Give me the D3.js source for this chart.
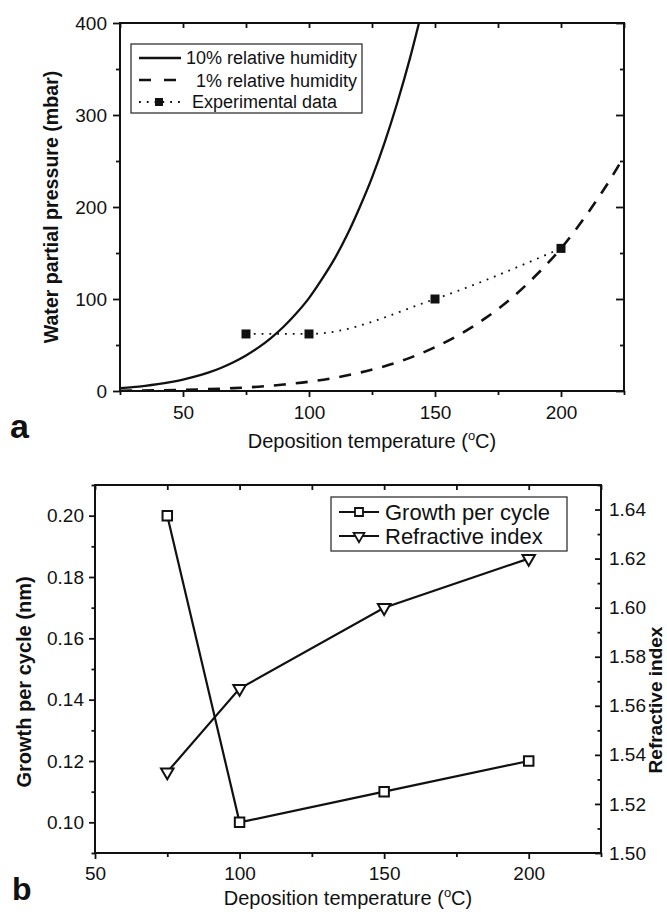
<!DOCTYPE html>
<html>
<head>
<meta charset="utf-8">
<script src="https://cdn.jsdelivr.net/npm/d3@7"></script>
<style>
  body { margin: 0; background: #fff; }
  text { font-family: "Liberation Sans", Arial, sans-serif; fill: #111; }
</style>
</head>
<body>
<svg id="fig" width="667" height="912"></svg>
<script>
// ---- panel a : water partial pressure vs deposition temperature
const rh10Temps = [25, 30, 35, 40, 45, 50, 55, 60, 65, 70, 75, 80, 85, 90, 95, 100, 105, 110, 115, 120, 125, 130, 135, 140, 145];
const rh10Pressure = [3.2, 4.2, 5.6, 7.4, 9.6, 12.3, 15.8, 19.9, 25, 31.2, 38.6, 47.4, 57.8, 70.1, 84.5, 101, 121, 143, 169, 199, 232, 270, 313, 361, 415];
const rh1Temps = [25, 30, 40, 50, 60, 70, 80, 90, 100, 110, 120, 130, 140, 150, 160, 170, 180, 190, 200, 210, 220, 225];
const rh1Pressure = [0.3, 0.4, 0.7, 1.2, 2.0, 3.1, 4.7, 7.0, 10.1, 14.3, 19.9, 27, 36, 47.6, 61.8, 79.2, 100, 125.5, 155, 191, 232, 255];
const expTemps = [75, 100, 150, 200];
const expPressure = [62, 62, 100, 155];
const pressureTicks = [0, 100, 200, 300, 400];
const pressureMinor = [50, 150, 250, 350];
const tempTicksA = [50, 100, 150, 200];
const tempMinorA = [25, 75, 125, 175, 225];

// ---- panel b : growth per cycle and refractive index
const depTemps = [75, 100, 150, 200];
const growth = [0.20, 0.10, 0.11, 0.12];
const refIndex = [1.533, 1.567, 1.600, 1.620];
const growthTicks = [0.10, 0.12, 0.14, 0.16, 0.18, 0.20];
const growthMinor = [0.09, 0.11, 0.13, 0.15, 0.17, 0.19, 0.21];
const refTicks = [1.50, 1.52, 1.54, 1.56, 1.58, 1.60, 1.62, 1.64];
const refMinor = [1.51, 1.53, 1.55, 1.57, 1.59, 1.61, 1.63, 1.65];
const tempTicksB = [50, 100, 150, 200];
const tempMinorB = [75, 125, 175, 225];

const ink = "#111";
const svg = d3.select("#fig");

// draws one set of ticks, no domain line
function axis(g, gen, values, size, fmt, pad) {
  const a = gen.tickValues(values).tickSizeInner(size).tickSizeOuter(0)
    .tickPadding(pad || 0).tickFormat(fmt || (() => ""));
  g.call(a);
  g.select(".domain").remove();
  g.selectAll("line").attr("stroke", ink).attr("stroke-width", 1.8);
  g.selectAll("text").attr("font-size", 19).attr("fill", ink).attr("font-family", null);
  return g;
}

// ================= panel a
const ax0 = 120, ax1 = 624, ay0 = 23, ay1 = 391;
const xa = d3.scaleLinear().domain([25, 225]).range([ax0, ax1]);
const ya = d3.scaleLinear().domain([0, 400]).range([ay1, ay0]);
const pa = svg.append("g");

pa.append("clipPath").attr("id", "clipA").append("rect")
  .attr("x", ax0).attr("y", ay0).attr("width", ax1 - ax0).attr("height", ay1 - ay0);

const lineA = (xs, ys) => d3.line().curve(d3.curveMonotoneX)
  .x((d, i) => xa(xs[i])).y(d => ya(d))(ys);

pa.append("path").attr("d", lineA(rh10Temps, rh10Pressure)).attr("clip-path", "url(#clipA)")
  .attr("fill", "none").attr("stroke", ink).attr("stroke-width", 2.3);
pa.append("path").attr("d", lineA(rh1Temps, rh1Pressure)).attr("clip-path", "url(#clipA)")
  .attr("fill", "none").attr("stroke", ink).attr("stroke-width", 2.6).attr("stroke-dasharray", "12,10");
pa.append("path").attr("d", lineA(expTemps, expPressure))
  .attr("fill", "none").attr("stroke", ink).attr("stroke-width", 1.8)
  .attr("stroke-dasharray", "1.8,6").attr("stroke-linecap", "butt");
pa.selectAll(".exp").data(expPressure).enter().append("path")
  .attr("transform", (d, i) => "translate(" + xa(expTemps[i]) + "," + ya(d) + ")")
  .attr("d", d3.symbol().type(d3.symbolSquare).size(81)).attr("fill", ink);

axis(pa.append("g").attr("transform", "translate(" + ax0 + ",0)"), d3.axisLeft(ya), pressureTicks, 7, d3.format("d"), 6);
axis(pa.append("g").attr("transform", "translate(" + ax0 + ",0)"), d3.axisLeft(ya), pressureMinor, 4);
axis(pa.append("g").attr("transform", "translate(" + ax1 + ",0)"), d3.axisRight(ya), pressureTicks, -8);
axis(pa.append("g").attr("transform", "translate(" + ax1 + ",0)"), d3.axisRight(ya), pressureMinor, -4);
axis(pa.append("g").attr("transform", "translate(0," + ay1 + ")"), d3.axisBottom(xa), tempTicksA, 6, d3.format("d"), 8.5);
axis(pa.append("g").attr("transform", "translate(0," + ay1 + ")"), d3.axisBottom(xa), tempMinorA, 4);
axis(pa.append("g").attr("transform", "translate(0," + ay0 + ")"), d3.axisTop(xa), tempTicksA.concat(tempMinorA), -5);

pa.append("rect").attr("x", ax0).attr("y", ay0).attr("width", ax1 - ax0).attr("height", ay1 - ay0)
  .attr("fill", "none").attr("stroke", ink).attr("stroke-width", 2);

// legend a
const la = pa.append("g");
la.append("rect").attr("x", 131).attr("y", 44).attr("width", 231).attr("height", 69)
  .attr("fill", "#fff").attr("stroke", "#333").attr("stroke-width", 1.3);
la.append("line").attr("x1", 139).attr("x2", 181).attr("y1", 58).attr("y2", 58)
  .attr("stroke", ink).attr("stroke-width", 2.3);
la.append("line").attr("x1", 139).attr("x2", 181).attr("y1", 80).attr("y2", 80)
  .attr("stroke", ink).attr("stroke-width", 2.6).attr("stroke-dasharray", "12,13");
la.append("line").attr("x1", 139).attr("x2", 181).attr("y1", 102).attr("y2", 102)
  .attr("stroke", ink).attr("stroke-width", 1.8).attr("stroke-dasharray", "1.8,6");
la.append("path").attr("transform", "translate(159,102)")
  .attr("d", d3.symbol().type(d3.symbolSquare).size(64)).attr("fill", ink);
la.append("text").attr("x", 186).attr("y", 64).attr("font-size", 18).text("10% relative humidity");
la.append("text").attr("x", 196).attr("y", 87).attr("font-size", 18).text("1% relative humidity");
la.append("text").attr("x", 192).attr("y", 108).attr("font-size", 18).text("Experimental data");

pa.append("text").attr("transform", "translate(58,207) rotate(-90)").attr("text-anchor", "middle")
  .attr("font-size", 19.6).attr("font-weight", "bold").text("Water partial pressure (mbar)");
const xta = pa.append("text").attr("x", (ax0 + ax1) / 2).attr("y", 448).attr("text-anchor", "middle").attr("font-size", 20);
xta.append("tspan").text("Deposition temperature (");
xta.append("tspan").attr("font-size", 13).attr("dy", -8).text("o");
xta.append("tspan").attr("dy", 8).text("C)");
pa.append("text").attr("x", 10).attr("y", 438).attr("font-size", 34).attr("font-weight", "bold").text("a");

// ================= panel b
const bx0 = 95, bx1 = 601, by0 = 485, by1 = 853;
const xb = d3.scaleLinear().domain([50, 225]).range([bx0, bx1]);
const yg = d3.scaleLinear().domain([0.09, 0.21]).range([by1, by0]);
const yr = d3.scaleLinear().domain([1.50, 1.65]).range([by1, by0]);
const pb = svg.append("g");

const lineB = (ys, scale) => d3.line().x((d, i) => xb(depTemps[i])).y(d => scale(d))(ys);
pb.append("path").attr("d", lineB(growth, yg)).attr("fill", "none").attr("stroke", ink).attr("stroke-width", 2.2);
pb.append("path").attr("d", lineB(refIndex, yr)).attr("fill", "none").attr("stroke", ink).attr("stroke-width", 2.2);

const sq = d3.symbol().type(d3.symbolSquare).size(90);
const tri = d3.symbol().type(d3.symbolTriangle).size(68);
pb.selectAll(".g").data(growth).enter().append("path")
  .attr("transform", (d, i) => "translate(" + xb(depTemps[i]) + "," + yg(d) + ")")
  .attr("d", sq).attr("fill", "#fff").attr("stroke", ink).attr("stroke-width", 2);
pb.selectAll(".r").data(refIndex).enter().append("path")
  .attr("transform", (d, i) => "translate(" + xb(depTemps[i]) + "," + yr(d) + ") rotate(180)")
  .attr("d", tri).attr("fill", "#fff").attr("stroke", ink).attr("stroke-width", 2);

axis(pb.append("g").attr("transform", "translate(" + bx0 + ",0)"), d3.axisLeft(yg), growthTicks, 6, d3.format(".2f"), 5);
axis(pb.append("g").attr("transform", "translate(" + bx0 + ",0)"), d3.axisLeft(yg), growthMinor, 3.5);
axis(pb.append("g").attr("transform", "translate(" + bx1 + ",0)"), d3.axisRight(yr), refTicks, -6, d3.format(".2f"), 8);
axis(pb.append("g").attr("transform", "translate(" + bx1 + ",0)"), d3.axisRight(yr), refMinor, -3.5);
axis(pb.append("g").attr("transform", "translate(0," + by1 + ")"), d3.axisBottom(xb), tempTicksB, 6, d3.format("d"), 7.5);
axis(pb.append("g").attr("transform", "translate(0," + by1 + ")"), d3.axisBottom(xb), tempMinorB, 4);
axis(pb.append("g").attr("transform", "translate(0," + by0 + ")"), d3.axisTop(xb), tempTicksB.concat(tempMinorB), -5);

pb.append("rect").attr("x", bx0).attr("y", by0).attr("width", bx1 - bx0).attr("height", by1 - by0)
  .attr("fill", "none").attr("stroke", ink).attr("stroke-width", 2);

// legend b
const lb = pb.append("g");
lb.append("rect").attr("x", 331).attr("y", 497).attr("width", 236).attr("height", 54)
  .attr("fill", "#fff").attr("stroke", "#333").attr("stroke-width", 1.3);
[512, 536].forEach((y, k) => {
  lb.append("line").attr("x1", 339).attr("x2", 379).attr("y1", y).attr("y2", y)
    .attr("stroke", ink).attr("stroke-width", 2.2);
  lb.append("path").attr("transform", "translate(359," + y + ")" + (k ? " rotate(180)" : ""))
    .attr("d", k ? d3.symbol().type(d3.symbolTriangle).size(50) : d3.symbol().type(d3.symbolSquare).size(64))
    .attr("fill", "#fff").attr("stroke", ink).attr("stroke-width", 1.8);
});
lb.append("text").attr("x", 385).attr("y", 520).attr("font-size", 22).text("Growth per cycle");
lb.append("text").attr("x", 385).attr("y", 544).attr("font-size", 22).text("Refractive index");

pb.append("text").attr("transform", "translate(31,682) rotate(-90)").attr("text-anchor", "middle")
  .attr("font-size", 20).attr("font-weight", "bold").text("Growth per cycle (nm)");
pb.append("text").attr("transform", "translate(662,700) rotate(-90)").attr("text-anchor", "middle")
  .attr("font-size", 19).attr("font-weight", "bold").text("Refractive index");
const xtb = pb.append("text").attr("x", (bx0 + bx1) / 2).attr("y", 905).attr("text-anchor", "middle").attr("font-size", 20);
xtb.append("tspan").text("Deposition temperature (");
xtb.append("tspan").attr("font-size", 13).attr("dy", -8).text("o");
xtb.append("tspan").attr("dy", 8).text("C)");
pb.append("text").attr("x", 12).attr("y", 900).attr("font-size", 32).attr("font-weight", "bold").text("b");
</script>
</body>
</html>
